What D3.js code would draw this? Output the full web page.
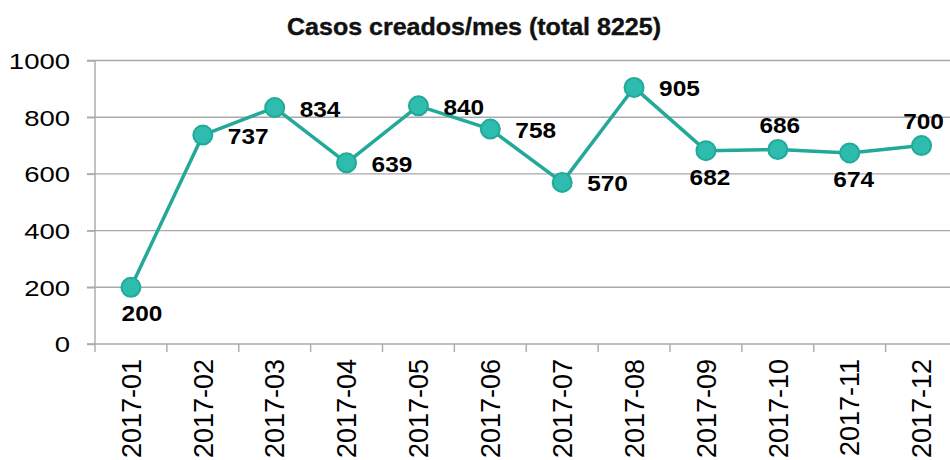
<!DOCTYPE html>
<html>
<head>
<meta charset="utf-8">
<script src="https://cdn.jsdelivr.net/npm/d3@7"></script>
<style>
  html, body { margin: 0; padding: 0; background: #fff; }
  svg { display: block; }
</style>
</head>
<body>
<div id="chart"></div>
<script>
// ---- data ----
const months = ["2017-01","2017-02","2017-03","2017-04","2017-05","2017-06","2017-07","2017-08","2017-09","2017-10","2017-11","2017-12"];
const casos = [200, 737, 834, 639, 840, 758, 570, 905, 682, 686, 674, 700];
const yTicks = [0, 200, 400, 600, 800, 1000];
const titleText = "Casos creados/mes (total 8225)";
// label placement (style only)
const labelPlacement = ["below","right","right","right","right","right","right","right","below","above","below","above"];

// ---- layout ----
const W = 950, H = 460;
const plotLeft = 95, plotRight = 957.5, plotTop = 60.5, plotBottom = 344;
const lineColor = "#22a99a", fillColor = "#2ebcae", gridColor = "#a9a9ad";

const svg = d3.select("#chart").append("svg").attr("width", W).attr("height", H);

const x = d3.scaleBand().domain(months).range([plotLeft, plotRight]).padding(0);
const y = d3.scaleLinear().domain([0, 1000]).range([plotBottom, plotTop]);

// gridlines
svg.append("g").selectAll("line").data(yTicks.filter(d => d > 0)).join("line")
  .attr("x1", plotLeft - 8).attr("x2", plotRight)
  .attr("y1", d => y(d)).attr("y2", d => y(d))
  .attr("stroke", gridColor).attr("stroke-width", 1.4);

// y axis
const yAxis = svg.append("g").attr("transform", `translate(${plotLeft},0)`)
  .call(d3.axisLeft(y).tickValues(yTicks).tickSize(8).tickPadding(0).tickFormat(d3.format("d")));
yAxis.select(".domain").attr("stroke", gridColor).attr("stroke-width", 1.4).attr("d", `M-8,${plotBottom}H0V${plotTop}`);
yAxis.selectAll(".tick line").attr("stroke", gridColor).attr("stroke-width", 1.4);
yAxis.selectAll(".tick text")
  .attr("font-family", "'Liberation Sans', Arial, sans-serif")
  .attr("font-size", 22).attr("fill", "#000")
  .attr("x", 0).attr("dy", "0.36em")
  .attr("text-anchor", "end")
  .attr("transform", "translate(-25,0) scale(1.25,1)");

// x axis
const xAxis = svg.append("g").attr("transform", `translate(0,${plotBottom})`)
  .call(d3.axisBottom(x).tickSize(0).tickFormat(""));
xAxis.select(".domain").attr("stroke", gridColor).attr("stroke-width", 1.4).attr("d", `M${plotLeft},0H${plotRight}`);
xAxis.selectAll(".tick").remove();
// tick marks at band boundaries
const boundaries = months.map(m => x(m)).concat([x(months[months.length - 1]) + x.bandwidth()]);
svg.append("g").selectAll("line").data(boundaries).join("line")
  .attr("x1", d => d).attr("x2", d => d)
  .attr("y1", plotBottom).attr("y2", plotBottom + 8)
  .attr("stroke", gridColor).attr("stroke-width", 1.4);
// x labels
svg.append("g").selectAll("text").data(months).join("text")
  .attr("transform", d => `translate(${x(d) + x.bandwidth() / 2},359) rotate(-90)`)
  .attr("text-anchor", "end").attr("dy", "0.36em")
  .attr("font-family", "'Liberation Sans', Arial, sans-serif")
  .attr("font-size", 27).attr("fill", "#000")
  .text(d => d);

// line
const cx = (d, i) => x(months[i]) + x.bandwidth() / 2;
svg.append("path").datum(casos)
  .attr("fill", "none").attr("stroke", lineColor).attr("stroke-width", 3.5)
  .attr("stroke-linejoin", "round")
  .attr("d", d3.line().x((d, i) => cx(d, i)).y(d => y(d)));

// points
svg.append("g").selectAll("circle").data(casos).join("circle")
  .attr("cx", (d, i) => cx(d, i)).attr("cy", d => y(d)).attr("r", 9.5)
  .attr("fill", fillColor).attr("stroke", lineColor).attr("stroke-width", 2);

// data labels
svg.append("g").selectAll("text").data(casos).join("text")
  .attr("transform", (d, i) => {
    const p = labelPlacement[i];
    let tx = cx(d, i), ty = y(d);
    if (p === "right") { tx += 25; ty += 9; }
    else if (p === "below") { tx += (i === 0 ? 11 : 4); ty += 34; }
    else { tx += 2; ty -= 16.5; }
    return `translate(${tx},${ty}) scale(1.11,1)`;
  })
  .attr("text-anchor", (d, i) => labelPlacement[i] === "right" ? "start" : "middle")
  .attr("font-family", "'Liberation Sans', Arial, sans-serif")
  .attr("font-weight", "bold").attr("font-size", 22).attr("fill", "#000")
  .text(d => d);

// title
svg.append("text")
  .attr("x", 474).attr("y", 35)
  .attr("text-anchor", "middle")
  .attr("font-family", "'Liberation Sans Narrow', 'Liberation Sans', Arial, sans-serif")
  .attr("font-weight", "bold").attr("font-size", 24).attr("fill", "#111")
  .attr("stroke", "#111").attr("stroke-width", 0.4)
  .attr("textLength", 374).attr("lengthAdjust", "spacingAndGlyphs")
  .text(titleText);
</script>
</body>
</html>
